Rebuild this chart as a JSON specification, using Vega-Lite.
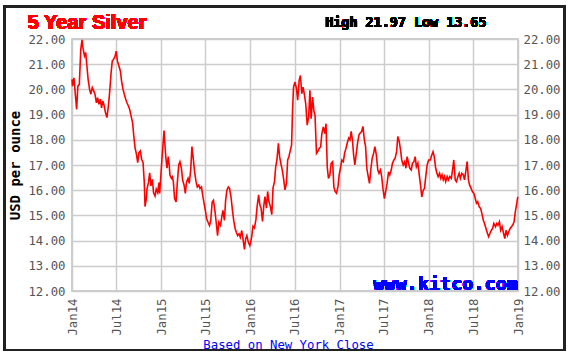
{
  "$schema": "https://vega.github.io/schema/vega-lite/v6.json",
  "width": 446,
  "height": 252,
  "autosize": {"type": "none"},
  "padding": {"left": 72, "top": 39, "right": 50, "bottom": 64},
  "background": "#ffffff",
  "config": {
    "view": {"stroke": "#bdbdbd", "strokeWidth": 1.5},
    "axis": {"labelFont": "DejaVu Sans Mono", "labelFontSize": 12.3, "labelColor": "#555555", "ticks": false, "domain": false, "gridColor": "#cccccc", "gridWidth": 1.5, "labelFlush": false, "labelOverlap": false}
  },
  "data": {"values": [
    {"d":"2014-01-01","p":20.40},{"d":"2014-01-03","p":20.13},{"d":"2014-01-09","p":20.46},{"d":"2014-01-14","p":19.87},{"d":"2014-01-20","p":19.21},{"d":"2014-01-25","p":20.13},{"d":"2014-01-31","p":20.20},{"d":"2014-02-06","p":21.59},{"d":"2014-02-11","p":21.97},{"d":"2014-02-15","p":21.65},{"d":"2014-02-21","p":21.33},{"d":"2014-02-26","p":21.46},
    {"d":"2014-03-03","p":20.93},{"d":"2014-03-08","p":20.40},{"d":"2014-03-14","p":20.00},{"d":"2014-03-19","p":19.81},{"d":"2014-03-25","p":20.07},{"d":"2014-03-31","p":19.94},{"d":"2014-04-05","p":19.81},{"d":"2014-04-11","p":19.47},{"d":"2014-04-16","p":19.67},{"d":"2014-04-21","p":19.41},{"d":"2014-04-27","p":19.61},
    {"d":"2014-05-02","p":19.27},{"d":"2014-05-07","p":19.54},{"d":"2014-05-13","p":19.34},{"d":"2014-05-18","p":19.08},{"d":"2014-05-24","p":18.88},{"d":"2014-05-30","p":19.34},{"d":"2014-06-04","p":19.87},{"d":"2014-06-10","p":20.66},{"d":"2014-06-15","p":21.13},{"d":"2014-06-20","p":21.19},{"d":"2014-06-26","p":21.30},
    {"d":"2014-07-01","p":21.52},{"d":"2014-07-06","p":21.13},{"d":"2014-07-12","p":20.93},{"d":"2014-07-18","p":20.73},{"d":"2014-07-23","p":20.33},{"d":"2014-07-29","p":20.00},{"d":"2014-08-03","p":19.81},{"d":"2014-08-09","p":19.61},{"d":"2014-08-14","p":19.47},{"d":"2014-08-20","p":19.34},{"d":"2014-08-25","p":19.21},{"d":"2014-08-31","p":18.94},
    {"d":"2014-09-06","p":18.68},{"d":"2014-09-11","p":18.15},{"d":"2014-09-16","p":17.69},{"d":"2014-09-22","p":17.42},{"d":"2014-09-27","p":17.09},{"d":"2014-10-02","p":17.49},{"d":"2014-10-08","p":17.56},{"d":"2014-10-13","p":17.23},{"d":"2014-10-19","p":17.09},{"d":"2014-10-24","p":16.30},{"d":"2014-10-27","p":15.35},
    {"d":"2014-11-01","p":15.64},{"d":"2014-11-04","p":16.04},{"d":"2014-11-10","p":16.30},{"d":"2014-11-15","p":16.69},{"d":"2014-11-20","p":16.17},{"d":"2014-11-26","p":16.43},{"d":"2014-12-01","p":15.90},{"d":"2014-12-07","p":15.77},{"d":"2014-12-12","p":16.04},{"d":"2014-12-18","p":15.90},{"d":"2014-12-23","p":16.30},{"d":"2014-12-26","p":15.87},{"d":"2014-12-31","p":16.60},
    {"d":"2015-01-04","p":17.20},{"d":"2015-01-09","p":17.87},{"d":"2015-01-13","p":18.37},{"d":"2015-01-17","p":17.73},{"d":"2015-01-21","p":17.20},{"d":"2015-01-25","p":16.87},{"d":"2015-01-30","p":17.33},{"d":"2015-02-03","p":17.00},{"d":"2015-02-06","p":16.60},{"d":"2015-02-12","p":16.47},{"d":"2015-02-16","p":16.53},{"d":"2015-02-20","p":16.33},{"d":"2015-02-25","p":15.67},
    {"d":"2015-03-03","p":15.53},{"d":"2015-03-08","p":16.27},{"d":"2015-03-14","p":17.00},{"d":"2015-03-19","p":17.13},{"d":"2015-03-25","p":16.87},{"d":"2015-03-30","p":16.40},{"d":"2015-04-05","p":16.20},{"d":"2015-04-10","p":15.87},{"d":"2015-04-15","p":16.33},{"d":"2015-04-21","p":16.47},{"d":"2015-04-26","p":16.27},
    {"d":"2015-05-02","p":16.80},{"d":"2015-05-07","p":17.73},{"d":"2015-05-13","p":17.20},{"d":"2015-05-18","p":16.73},{"d":"2015-05-24","p":16.33},{"d":"2015-05-29","p":16.13},{"d":"2015-06-04","p":16.20},{"d":"2015-06-09","p":16.07},{"d":"2015-06-15","p":16.13},{"d":"2015-06-20","p":15.80},{"d":"2015-06-26","p":15.47},
    {"d":"2015-07-01","p":15.20},{"d":"2015-07-06","p":14.87},{"d":"2015-07-12","p":14.73},{"d":"2015-07-18","p":14.60},{"d":"2015-07-23","p":14.80},{"d":"2015-07-29","p":15.53},{"d":"2015-08-03","p":15.60},{"d":"2015-08-09","p":15.20},{"d":"2015-08-15","p":14.67},{"d":"2015-08-20","p":14.20},{"d":"2015-08-25","p":14.73},
    {"d":"2015-09-01","p":14.60},{"d":"2015-09-06","p":14.93},{"d":"2015-09-11","p":15.20},{"d":"2015-09-17","p":14.80},{"d":"2015-09-22","p":15.60},{"d":"2015-09-27","p":16.00},{"d":"2015-10-03","p":16.13},{"d":"2015-10-08","p":16.07},{"d":"2015-10-14","p":15.73},{"d":"2015-10-20","p":15.20},{"d":"2015-10-25","p":14.80},{"d":"2015-10-31","p":14.47},
    {"d":"2015-11-05","p":14.33},{"d":"2015-11-10","p":14.20},{"d":"2015-11-16","p":14.27},{"d":"2015-11-21","p":14.13},{"d":"2015-11-27","p":14.40},{"d":"2015-12-02","p":14.07},{"d":"2015-12-08","p":13.65},{"d":"2015-12-13","p":14.07},{"d":"2015-12-18","p":14.20},{"d":"2015-12-24","p":13.93},{"d":"2015-12-30","p":13.80},
    {"d":"2016-01-02","p":13.91},{"d":"2016-01-07","p":14.17},{"d":"2016-01-12","p":14.57},{"d":"2016-01-18","p":14.50},{"d":"2016-01-24","p":14.83},{"d":"2016-01-29","p":15.36},{"d":"2016-02-04","p":15.82},{"d":"2016-02-09","p":15.42},{"d":"2016-02-14","p":15.29},{"d":"2016-02-20","p":14.76},{"d":"2016-02-25","p":15.36},
    {"d":"2016-03-01","p":15.75},{"d":"2016-03-07","p":15.29},{"d":"2016-03-12","p":15.95},{"d":"2016-03-17","p":15.55},{"d":"2016-03-23","p":15.36},{"d":"2016-03-29","p":15.03},{"d":"2016-04-03","p":16.08},{"d":"2016-04-09","p":16.34},{"d":"2016-04-14","p":16.93},{"d":"2016-04-19","p":17.20},{"d":"2016-04-25","p":17.86},{"d":"2016-04-30","p":17.33},
    {"d":"2016-05-05","p":17.07},{"d":"2016-05-11","p":16.80},{"d":"2016-05-17","p":16.41},{"d":"2016-05-22","p":16.01},{"d":"2016-05-28","p":16.28},{"d":"2016-06-02","p":17.20},{"d":"2016-06-07","p":17.33},{"d":"2016-06-13","p":17.59},{"d":"2016-06-18","p":17.79},{"d":"2016-06-22","p":19.17},{"d":"2016-06-26","p":20.09},
    {"d":"2016-07-02","p":20.29},{"d":"2016-07-08","p":20.03},{"d":"2016-07-13","p":19.57},{"d":"2016-07-19","p":20.36},{"d":"2016-07-24","p":20.55},{"d":"2016-07-30","p":19.83},{"d":"2016-08-04","p":20.09},{"d":"2016-08-10","p":19.76},{"d":"2016-08-15","p":19.43},{"d":"2016-08-21","p":18.58},{"d":"2016-08-27","p":18.91},
    {"d":"2016-09-01","p":19.96},{"d":"2016-09-06","p":18.84},{"d":"2016-09-12","p":19.70},{"d":"2016-09-17","p":19.17},{"d":"2016-09-22","p":18.97},{"d":"2016-09-28","p":17.46},{"d":"2016-10-03","p":17.53},{"d":"2016-10-09","p":17.66},{"d":"2016-10-15","p":17.72},{"d":"2016-10-20","p":18.25},{"d":"2016-10-26","p":18.51},
    {"d":"2016-11-01","p":18.25},{"d":"2016-11-06","p":18.64},{"d":"2016-11-11","p":16.93},{"d":"2016-11-16","p":16.47},{"d":"2016-11-22","p":16.61},{"d":"2016-11-27","p":17.07},{"d":"2016-12-03","p":17.13},{"d":"2016-12-08","p":16.14},{"d":"2016-12-13","p":15.95},{"d":"2016-12-19","p":15.88},{"d":"2016-12-25","p":16.14},{"d":"2016-12-30","p":16.61},
    {"d":"2017-01-05","p":16.93},{"d":"2017-01-10","p":17.20},{"d":"2017-01-16","p":17.13},{"d":"2017-01-21","p":17.47},{"d":"2017-01-27","p":17.67},{"d":"2017-02-01","p":17.87},{"d":"2017-02-07","p":18.07},{"d":"2017-02-12","p":18.00},{"d":"2017-02-17","p":18.33},{"d":"2017-02-22","p":18.00},{"d":"2017-02-27","p":17.40},
    {"d":"2017-03-04","p":17.00},{"d":"2017-03-10","p":17.47},{"d":"2017-03-15","p":17.87},{"d":"2017-03-21","p":18.20},{"d":"2017-03-26","p":18.27},{"d":"2017-04-01","p":18.33},{"d":"2017-04-06","p":18.53},{"d":"2017-04-12","p":18.00},{"d":"2017-04-17","p":17.73},{"d":"2017-04-22","p":16.87},{"d":"2017-04-28","p":16.53},
    {"d":"2017-05-03","p":16.27},{"d":"2017-05-09","p":16.87},{"d":"2017-05-14","p":17.27},{"d":"2017-05-20","p":17.47},{"d":"2017-05-25","p":17.73},{"d":"2017-05-31","p":17.40},{"d":"2017-06-06","p":16.80},{"d":"2017-06-11","p":16.67},{"d":"2017-06-17","p":16.80},{"d":"2017-06-22","p":16.53},{"d":"2017-06-27","p":16.07},
    {"d":"2017-07-03","p":15.67},{"d":"2017-07-08","p":15.93},{"d":"2017-07-14","p":16.27},{"d":"2017-07-20","p":16.73},{"d":"2017-07-25","p":16.60},{"d":"2017-07-31","p":16.80},{"d":"2017-08-05","p":17.07},{"d":"2017-08-11","p":17.20},{"d":"2017-08-16","p":17.27},{"d":"2017-08-22","p":17.53},{"d":"2017-08-27","p":18.13},
    {"d":"2017-09-02","p":17.93},{"d":"2017-09-07","p":17.60},{"d":"2017-09-12","p":17.20},{"d":"2017-09-18","p":17.00},{"d":"2017-09-24","p":17.13},{"d":"2017-09-29","p":16.87},{"d":"2017-10-04","p":17.33},{"d":"2017-10-10","p":17.07},{"d":"2017-10-15","p":16.87},{"d":"2017-10-21","p":16.80},{"d":"2017-10-26","p":17.07},
    {"d":"2017-11-01","p":17.13},{"d":"2017-11-06","p":17.33},{"d":"2017-11-11","p":16.93},{"d":"2017-11-17","p":17.07},{"d":"2017-11-22","p":16.67},{"d":"2017-11-28","p":16.20},{"d":"2017-12-03","p":15.73},{"d":"2017-12-09","p":16.00},{"d":"2017-12-14","p":16.07},{"d":"2017-12-20","p":16.60},{"d":"2017-12-25","p":17.00},{"d":"2017-12-31","p":17.20},
    {"d":"2018-01-07","p":17.20},{"d":"2018-01-13","p":17.40},{"d":"2018-01-18","p":17.53},{"d":"2018-01-23","p":17.33},{"d":"2018-01-29","p":16.87},{"d":"2018-02-03","p":16.67},{"d":"2018-02-08","p":16.54},{"d":"2018-02-14","p":16.67},{"d":"2018-02-19","p":16.47},{"d":"2018-02-24","p":16.61},
    {"d":"2018-03-01","p":16.41},{"d":"2018-03-06","p":16.54},{"d":"2018-03-11","p":16.34},{"d":"2018-03-17","p":16.54},{"d":"2018-03-22","p":16.41},{"d":"2018-03-28","p":16.54},{"d":"2018-04-03","p":16.47},{"d":"2018-04-08","p":16.80},{"d":"2018-04-13","p":17.20},{"d":"2018-04-19","p":16.41},{"d":"2018-04-24","p":16.34},{"d":"2018-04-30","p":16.54},
    {"d":"2018-05-05","p":16.67},{"d":"2018-05-10","p":16.47},{"d":"2018-05-16","p":16.67},{"d":"2018-05-22","p":16.61},{"d":"2018-05-27","p":16.41},{"d":"2018-06-02","p":16.80},{"d":"2018-06-07","p":17.14},{"d":"2018-06-12","p":16.41},{"d":"2018-06-17","p":16.20},{"d":"2018-06-23","p":16.07},{"d":"2018-06-29","p":15.94},
    {"d":"2018-07-04","p":15.88},{"d":"2018-07-10","p":15.68},{"d":"2018-07-15","p":15.48},{"d":"2018-07-20","p":15.54},{"d":"2018-07-26","p":15.34},{"d":"2018-08-01","p":15.28},{"d":"2018-08-06","p":15.08},{"d":"2018-08-12","p":14.81},{"d":"2018-08-17","p":14.68},{"d":"2018-08-23","p":14.48},{"d":"2018-08-29","p":14.28},
    {"d":"2018-09-03","p":14.15},{"d":"2018-09-08","p":14.28},{"d":"2018-09-14","p":14.41},{"d":"2018-09-19","p":14.48},{"d":"2018-09-24","p":14.68},{"d":"2018-10-01","p":14.55},{"d":"2018-10-06","p":14.68},{"d":"2018-10-11","p":14.61},{"d":"2018-10-17","p":14.75},{"d":"2018-10-22","p":14.41},{"d":"2018-10-28","p":14.55},
    {"d":"2018-11-03","p":14.28},{"d":"2018-11-08","p":14.08},{"d":"2018-11-13","p":14.41},{"d":"2018-11-19","p":14.21},{"d":"2018-11-24","p":14.35},{"d":"2018-11-30","p":14.48},{"d":"2018-12-05","p":14.55},{"d":"2018-12-10","p":14.61},{"d":"2018-12-16","p":14.75},{"d":"2018-12-21","p":15.14},{"d":"2018-12-27","p":15.48},{"d":"2018-12-31","p":15.74}
  ]},
  "resolve": {"scale": {"y": "shared", "x": "shared"}, "axis": {"y": "independent"}},
  "layer": [
    {
      "mark": {"type": "line", "color": "#ff0000", "strokeWidth": 1.6},
      "encoding": {
        "x": {"field": "d", "type": "temporal", "scale": {"domain": [{"year": 2014, "month": 1, "date": 1}, {"year": 2019, "month": 1, "date": 1}], "nice": false},
              "axis": {"format": "%b%y", "labelAngle": -90, "tickCount": {"interval": "month", "step": 6}, "grid": true, "labelPadding": 7, "title": "Based on New York Close", "titleFont": "DejaVu Sans Mono", "titleFontSize": 12.3, "titleFontWeight": "normal", "titleColor": "#0000ff", "titlePadding": 3, "titleX": 216}},
        "y": {"field": "p", "type": "quantitative", "scale": {"domain": [12, 22], "nice": false, "zero": false},
              "axis": {"orient": "left", "values": [12, 13, 14, 15, 16, 17, 18, 19, 20, 21, 22], "format": ".2f", "grid": true, "labelPadding": 7, "title": "USD per ounce", "titleFont": "DejaVu Sans Mono", "titleFontSize": 14, "titleFontWeight": "bold", "titleColor": "#000000", "titlePadding": 5}}
      }
    },
    {
      "mark": {"type": "line", "strokeOpacity": 0},
      "encoding": {
        "x": {"field": "d", "type": "temporal"},
        "y": {"field": "p", "type": "quantitative", "scale": {"domain": [12, 22], "nice": false, "zero": false},
              "axis": {"orient": "right", "values": [12, 13, 14, 15, 16, 17, 18, 19, 20, 21, 22], "format": ".2f", "grid": false, "labelPadding": 5, "title": null}}
      }
    },
    {
      "mark": {"type": "text", "text": "5 Year Silver", "align": "left", "baseline": "alphabetic", "font": "Liberation Sans", "fontSize": 20, "fontWeight": "bold", "color": "#ff0000"},
      "encoding": {
        "x": {"datum": {"year": 2013, "month": 7, "date": 4}, "type": "temporal"},
        "y": {"datum": 22.38, "type": "quantitative", "scale": {"domain": [12, 22], "nice": false, "zero": false}, "axis": null}
      }
    },
    {
      "mark": {"type": "text", "text": "High 21.97 Low 13.65", "align": "right", "baseline": "alphabetic", "font": "DejaVu Sans Mono", "fontSize": 13.4, "fontWeight": "bold", "color": "#000000"},
      "encoding": {
        "x": {"datum": {"year": 2018, "month": 8, "date": 25}, "type": "temporal"},
        "y": {"datum": 22.49, "type": "quantitative", "scale": {"domain": [12, 22], "nice": false, "zero": false}, "axis": null}
      }
    },
    {
      "mark": {"type": "text", "text": "www.kitco.com", "align": "right", "baseline": "alphabetic", "font": "DejaVu Sans Mono", "fontSize": 18.5, "fontWeight": "bold", "color": "#0000ff"},
      "encoding": {
        "x": {"datum": {"year": 2019, "month": 1, "date": 1}, "type": "temporal"},
        "y": {"datum": 12.04, "type": "quantitative", "scale": {"domain": [12, 22], "nice": false, "zero": false}, "axis": null}
      }
    },
    {
      "mark": {"type": "rect", "fill": null, "stroke": "#222222", "strokeWidth": 2},
      "encoding": {
        "x": {"datum": {"year": 2013, "month": 4, "date": 1}, "type": "temporal"},
        "x2": {"datum": {"year": 2019, "month": 7, "date": 10}},
        "y": {"datum": 23.28, "type": "quantitative", "scale": {"domain": [12, 22], "nice": false, "zero": false}, "axis": null},
        "y2": {"datum": 9.66}
      }
    }
  ]
}
